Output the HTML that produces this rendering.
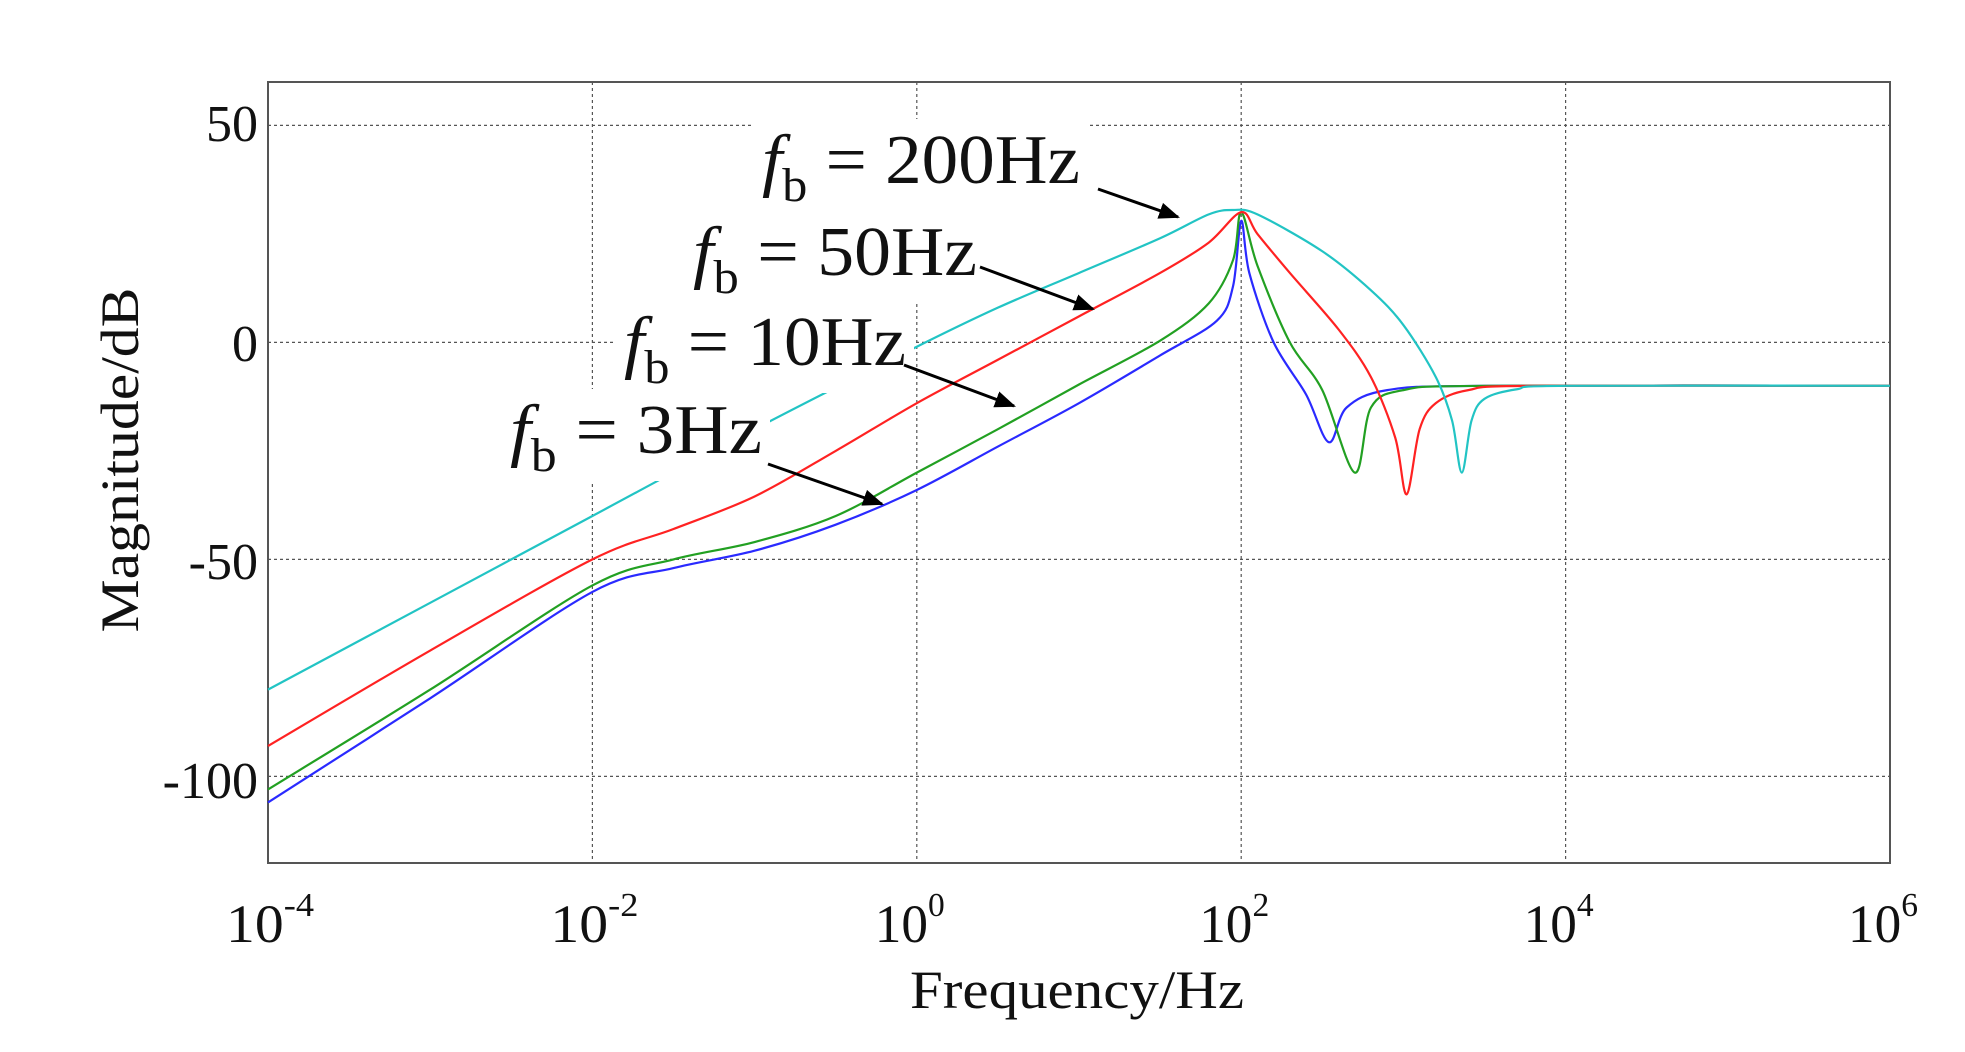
<!DOCTYPE html>
<html><head><meta charset="utf-8"><style>
html,body{margin:0;padding:0;background:#fff;}
svg{display:block;font-family:"Liberation Serif",serif;}
</style></head><body>
<svg id="s" width="1965" height="1052" viewBox="0 0 1965 1052" xmlns="http://www.w3.org/2000/svg">
<rect x="0" y="0" width="1965" height="1052" fill="#fff"/>
<g id="grid" stroke="#555" stroke-width="1.2" stroke-dasharray="3,3"></g>
<rect x="268" y="82" width="1622" height="781" fill="none" stroke="#555" stroke-width="2"/>
<g id="curves" fill="none" stroke-width="2.2" stroke-linejoin="round"></g>
<g id="labels"></g>
<g font-size="52" fill="#111" text-anchor="end">
<text x="258" y="141">50</text>
<text x="258" y="361">0</text>
<text x="258" y="579">-50</text>
<text x="258" y="798">-100</text>
</g>
<g id="xt" font-size="54" fill="#111"></g>
<text x="1077" y="1008" font-size="54" text-anchor="middle" fill="#111" textLength="334" lengthAdjust="spacingAndGlyphs">Frequency/Hz</text>
<text transform="translate(138,460) rotate(-90)" font-size="54" text-anchor="middle" fill="#111" textLength="345" lengthAdjust="spacingAndGlyphs">Magnitude/dB</text>
<defs><marker id="ah" viewBox="0 0 10 10" refX="9" refY="5" markerWidth="7" markerHeight="7" orient="auto"><path d="M0,1 L10,5 L0,9 z" fill="#000"/></marker></defs>
</svg>
<script>
const X=l=>268+(l+4)*162.2, Y=d=>82+(60-d)*4.34;
const ns="http://www.w3.org/2000/svg";
function el(p,t,a,txt){const e=document.createElementNS(ns,t);for(const k in a)e.setAttribute(k,a[k]);if(txt!==undefined)e.textContent=txt;p.appendChild(e);return e;}
const g=document.getElementById('grid');
[-2,0,2,4].forEach(l=>el(g,'line',{x1:X(l),x2:X(l),y1:82,y2:863}));
[50,0,-50,-100].forEach(d=>el(g,'line',{x1:268,x2:1890,y1:Y(d),y2:Y(d)}));
const xt=document.getElementById('xt');
[-4,-2,0,2,4,6].forEach(l=>{const t=el(xt,'text',{x:X(l)-42,y:942,textLength:l<0?88:70,lengthAdjust:'spacingAndGlyphs'});el(t,'tspan',{},'10');el(t,'tspan',{dy:-26,'font-size':34},String(l));});
function path(pts){let d='M'+X(pts[0][0])+','+Y(pts[0][1]);
for(let i=0;i<pts.length-1;i++){const p0=pts[Math.max(0,i-1)],p1=pts[i],p2=pts[i+1],p3=pts[Math.min(pts.length-1,i+2)];
const a=[X(p0[0]),Y(p0[1])],b=[X(p1[0]),Y(p1[1])],c=[X(p2[0]),Y(p2[1])],e=[X(p3[0]),Y(p3[1])];
const k=0.16;d+=' C'+(b[0]+(c[0]-a[0])*k)+','+(b[1]+(c[1]-a[1])*k)+' '+(c[0]-(e[0]-b[0])*k)+','+(c[1]-(e[1]-b[1])*k)+' '+c[0]+','+c[1];}
return d;}
const C=document.getElementById('curves');
const series=[
['#2a2aff',[[-4,-106],[-3,-82],[-2,-57.5],[-1.5,-52],[-1,-48],[-0.5,-42],[0,-34],[0.5,-24],[1,-14],[1.5,-3],[1.85,5],[1.95,13],[2,28],[2.05,16],[2.2,0],[2.4,-12],[2.54,-23],[2.65,-15],[2.9,-11],[3.5,-10],[6,-10]]],
['#22a022',[[-4,-103],[-3,-80],[-2,-56],[-1.5,-50],[-1,-46],[-0.5,-40],[0,-30],[0.5,-20],[1,-9.7],[1.5,0.4],[1.8,9],[1.95,19],[2,30],[2.1,17.7],[2.3,0],[2.5,-11],[2.7,-30],[2.8,-15],[3,-11],[3.5,-10],[6,-10]]],
['#ff2222',[[-4,-93],[-3,-71],[-2,-50],[-1.5,-43],[-1,-35.5],[-0.5,-25],[0,-14],[0.5,-4],[1,6],[1.5,16],[1.8,23],[2,30],[2.1,25],[2.3,16],[2.6,3],[2.8,-8],[2.95,-22],[3.02,-35],[3.1,-20],[3.2,-14],[3.4,-11],[3.8,-10],[6,-10]]],
['#22c4c4',[[-4,-80],[-3,-60],[-2,-40],[-1,-20],[0,-1],[0.5,8],[1,16],[1.5,24],[1.8,29.5],[1.95,30.5],[2.1,29.5],[2.5,21],[2.8,12],[3.0,4],[3.2,-8],[3.3,-18],[3.36,-30],[3.42,-18],[3.5,-13],[3.7,-10.8],[4,-10],[6,-10]]]];
series.forEach(s=>el(C,'path',{d:path(s[1]),stroke:s[0]}));
const L=document.getElementById('labels');
function lab(x,y,num,w){el(L,'rect',{x:x-8,y:y-64,width:w+16,height:92,fill:'#fff'});
const t=el(L,'text',{x:x,y:y,'font-size':70,fill:'#111',textLength:w,lengthAdjust:'spacingAndGlyphs'});
el(t,'tspan',{'font-style':'italic'},'f');el(t,'tspan',{dy:18,'font-size':48},'b');el(t,'tspan',{dy:-18},' = '+num+'Hz');}
lab(762,183,'200',318);lab(693,275,'50',284);lab(624,365,'10',282);lab(510,453,'3',252);
[[1098,189,1178,217],[980,267,1093,309],[904,365,1014,406],[768,464,882,504]].forEach(a=>el(L,'line',{x1:a[0],y1:a[1],x2:a[2],y2:a[3],stroke:'#000','stroke-width':3,'marker-end':'url(#ah)'}));
</script>
</body></html>
